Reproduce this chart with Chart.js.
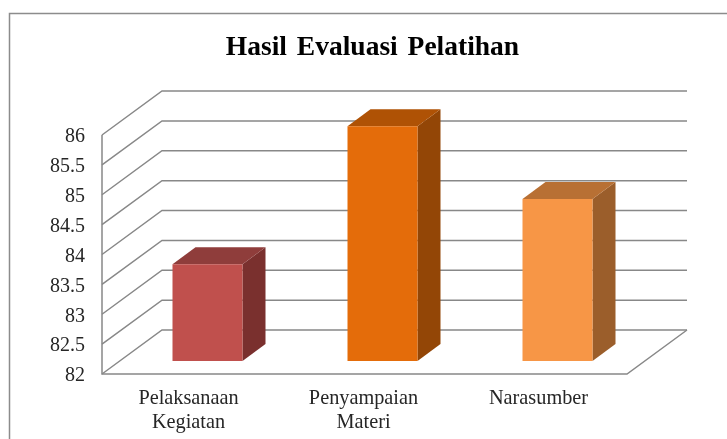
<!DOCTYPE html>
<html>
<head>
<meta charset="utf-8">
<title>Hasil Evaluasi Pelatihan</title>
<script src="https://cdn.jsdelivr.net/npm/chart.js@4"></script>
<style>
  html, body { margin: 0; padding: 0; background: #fff; overflow: hidden; width: 727px; height: 439px; }
  canvas { display: block; }
</style>
</head>
<body>
<canvas id="chart" width="745" height="439"></canvas>
<script>
// Chart data
const categories = [["Pelaksanaan", "Kegiatan"], ["Penyampaian", "Materi"], "Narasumber"];
const values = [83.62, 85.93, 84.71];
const tickLabels = ["82", "82.5", "83", "83.5", "84", "84.5", "85", "85.5", "86"];

// Bar colours
const frontColors = ["#C0504D", "#E46C0A", "#F79646"];
const topColors = ["#8F3D3B", "#AF5205", "#B87034"];
const sideColors = ["#7A302E", "#934606", "#9B5E2B"];

// Depth of the fake 3D box
const wallDepth = { x: 60, y: -44 };
const barDepth = { x: 23, y: -17 };
const barShift = { x: 18, y: -13 };
const wallRight = 687;
const gridColor = "#888888";

const serif = "'Liberation Serif', 'Times New Roman', serif";

function strokePath(ctx, points) {
  ctx.beginPath();
  points.forEach(function (p, i) {
    if (i === 0) ctx.moveTo(p[0], p[1]);
    else ctx.lineTo(p[0], p[1]);
  });
  ctx.stroke();
}

function fillPath(ctx, points, color) {
  ctx.fillStyle = color;
  ctx.beginPath();
  points.forEach(function (p, i) {
    if (i === 0) ctx.moveTo(p[0], p[1]);
    else ctx.lineTo(p[0], p[1]);
  });
  ctx.closePath();
  ctx.fill();
}

const box3d = {
  id: "box3d",
  beforeDraw: function (chart) {
    const ctx = chart.ctx;
    ctx.wordSpacing = "3px"; // title has wide word gaps
    ctx.save();
    ctx.strokeStyle = "#8c8c8c";
    ctx.lineWidth = 1.5;
    strokePath(ctx, [[9.5, 439], [9.5, 13.5], [chart.width, 13.5]]);
    ctx.restore();
  },
  beforeDatasetsDraw: function (chart) {
    const ctx = chart.ctx;
    const area = chart.chartArea;
    const yScale = chart.scales.y;

    // Walls: every tick runs back along the side wall and across the back wall
    ctx.save();
    ctx.strokeStyle = gridColor;
    ctx.lineWidth = 1.5;
    yScale.ticks.forEach(function (tick) {
      const y = yScale.getPixelForValue(tick.value);
      strokePath(ctx, [
        [area.left, y],
        [area.left + wallDepth.x, y + wallDepth.y],
        [wallRight, y + wallDepth.y],
      ]);
    });
    // Front edge of the side wall and floor
    strokePath(ctx, [
      [area.left, area.top],
      [area.left, area.bottom],
      [area.right, area.bottom],
      [area.right + wallDepth.x, area.bottom + wallDepth.y],
    ]);
    ctx.restore();

    // Bars sit a little inside the floor, side and top faces come first
    ctx.save();
    ctx.translate(barShift.x, barShift.y);
    chart.getDatasetMeta(0).data.forEach(function (bar, i) {
      const left = bar.x - bar.width / 2;
      const right = bar.x + bar.width / 2;
      fillPath(ctx, [
        [right, bar.y],
        [right + barDepth.x, bar.y + barDepth.y],
        [right + barDepth.x, bar.base + barDepth.y],
        [right, bar.base],
      ], sideColors[i]);
      fillPath(ctx, [
        [left, bar.y],
        [left + barDepth.x, bar.y + barDepth.y],
        [right + barDepth.x, bar.y + barDepth.y],
        [right, bar.y],
      ], topColors[i]);
    });
  },
  afterDatasetsDraw: function (chart) {
    chart.ctx.restore();
  },
};

new Chart(document.getElementById("chart"), {
  type: "bar",
  data: {
    labels: categories,
    datasets: [
      {
        data: values,
        base: 82,
        backgroundColor: frontColors,
        borderWidth: 0,
        barPercentage: 0.4,
        categoryPercentage: 1,
        clip: false,
      },
    ],
  },
  options: {
    responsive: false,
    animation: false,
    devicePixelRatio: 1,
    layout: { padding: 0 },
    plugins: {
      legend: { display: false },
      tooltip: { enabled: false },
      title: {
        display: true,
        text: "Hasil Evaluasi Pelatihan",
        color: "#000000",
        font: { family: serif, size: 27.5, weight: "bold", lineHeight: 1.2 },
        padding: { top: 31, bottom: 71 },
      },
    },
    scales: {
      x: {
        grid: { display: false, drawTicks: false },
        border: { display: false },
        afterFit: function (scale) {
          scale.height = 65;
        },
        ticks: {
          color: "#262626",
          font: { family: serif, size: 20.3, lineHeight: 1.18 },
          padding: 13,
          labelOffset: -1,
          maxRotation: 0,
          autoSkip: false,
        },
      },
      y: {
        min: 82,
        max: 86,
        grid: { display: false, drawTicks: false },
        border: { display: false },
        afterFit: function (scale) {
          scale.width = 102;
        },
        ticks: {
          stepSize: 0.5,
          color: "#262626",
          font: { family: serif, size: 20 },
          padding: 17,
          labelOffset: 2,
          callback: function (value, index) {
            return tickLabels[index];
          },
        },
      },
      // empty axis, only keeps the plot clear of the right side
      rightGap: {
        position: "right",
        grid: { display: false, drawTicks: false },
        border: { display: false },
        ticks: { display: false },
        afterFit: function (scale) {
          scale.width = 118;
        },
      },
    },
  },
  plugins: [box3d],
});
</script>
</body>
</html>
